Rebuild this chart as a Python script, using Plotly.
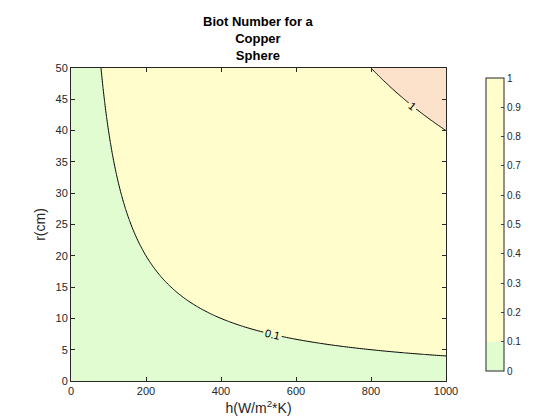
import numpy as np
import plotly.graph_objects as go

# heat transfer coefficient h (W/m^2*K) and radius r (cm) grid
h_vals = list(np.linspace(0, 1000, 201))
r_vals = list(np.linspace(0, 50, 201))
k_copper = 400.0  # W/m*K
levels = [0.1, 1.0]
band_colors = ["#e1fcd0", "#fffdcb", "#fde2cb"]
cbar_ticks = [0, 0.1, 0.2, 0.3, 0.4, 0.5, 0.6, 0.7, 0.8, 0.9, 1]

H, R = np.meshgrid(h_vals, r_vals)
Bi = H * (R / 100.0) / k_copper
zmax = 1.5

scale = [[0, band_colors[0]], [levels[0] / zmax, band_colors[0]],
         [levels[0] / zmax, band_colors[1]], [levels[1] / zmax, band_colors[1]],
         [levels[1] / zmax, band_colors[2]], [1, band_colors[2]]]

fig = go.Figure()
fig.add_trace(go.Contour(
    x=h_vals, y=r_vals, z=Bi, zmin=0, zmax=zmax, colorscale=scale,
    autocontour=False, contours=dict(start=levels[0], end=levels[1], size=levels[1] - levels[0],
                                     coloring="fill", showlines=False),
    showscale=False, hoverinfo="skip"))
fig.add_trace(go.Contour(
    x=h_vals, y=r_vals, z=Bi, autocontour=False,
    contours=dict(start=levels[0], end=levels[1], size=levels[1] - levels[0],
                  coloring="none", showlabels=True,
                  labelfont=dict(size=11, color="black")),
    line=dict(color="black", width=1), showscale=False, hoverinfo="skip"))

# colorbar only shows the 0..1 range, like the MATLAB figure
cb_scale = [[0, band_colors[0]], [0.1, band_colors[0]], [0.1, band_colors[1]], [1, band_colors[1]]]
fig.add_trace(go.Scatter(
    x=[None], y=[None], mode="markers", showlegend=False,
    marker=dict(colorscale=cb_scale, cmin=0, cmax=1, color=[0], showscale=True,
                colorbar=dict(x=1.08, xanchor="left", y=0, yanchor="bottom", len=1,
                              thickness=18, outlinecolor="#262626", outlinewidth=1,
                              tickvals=cbar_ticks, ticks="inside", ticklen=3,
                              tickfont=dict(size=10, color="#262626")))))

axis = dict(showgrid=False, zeroline=False, showline=True, linecolor="#262626",
            mirror="ticks", ticks="inside", ticklen=4, tickcolor="#262626",
            tickfont=dict(size=11, color="#262626"), automargin=False)
fig.update_xaxes(range=[0, 1000], dtick=200, title=dict(text="h(W/m<sup>2</sup>*K)", standoff=6), **axis)
fig.update_yaxes(range=[0, 50], dtick=5, title=dict(text="r(cm)", standoff=6), **axis)

fig.add_annotation(text="<b>Biot Number for a<br>Copper<br>Sphere</b>", xref="paper", yref="paper",
                   x=0.5, y=1, yshift=3, xanchor="center", yanchor="bottom", showarrow=False,
                   font=dict(size=13, color="black"))

fig.update_layout(
    width=560, height=420, margin=dict(l=63, r=122, t=60, b=47, autoexpand=False),
    paper_bgcolor="white", plot_bgcolor="white", showlegend=False,
    font=dict(family="Liberation Sans, Arial, sans-serif", size=12, color="#262626"))

fig.write_html("out.html")
